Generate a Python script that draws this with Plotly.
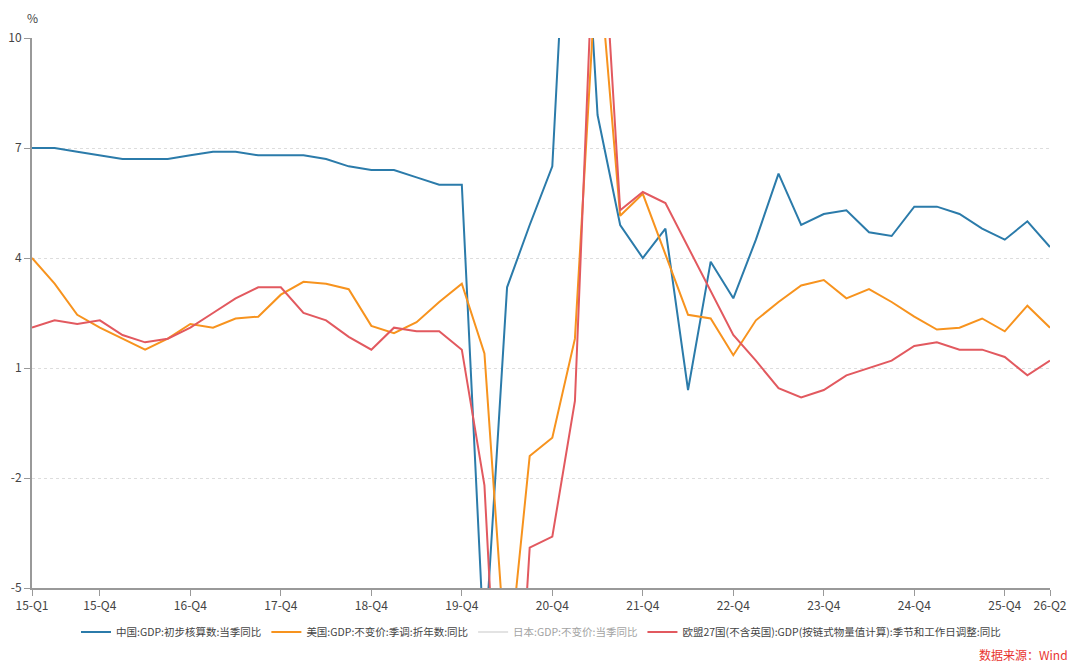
import plotly.graph_objects as go

# 季度标签 15-Q1 ... 26-Q2
quarters = [f"{y:02d}-Q{q}" for y in range(15, 27) for q in range(1, 5)][:46]

# 中国:GDP:初步核算数:当季同比
china = [7.0, 7.0, 6.9, 6.8, 6.7, 6.7, 6.7, 6.8, 6.9, 6.9, 6.8, 6.8,
         6.8, 6.7, 6.5, 6.4, 6.4, 6.2, 6.0, 6.0, -6.8, 3.2, 4.9, 6.5,
         18.3, 7.9, 4.9, 4.0, 4.8, 0.4, 3.9, 2.9, 4.5, 6.3, 4.9, 5.2,
         5.3, 4.7, 4.6, 5.4, 5.4, 5.2, 4.8, 4.5, 5.0, 4.3]

# 美国:GDP:不变价:季调:折年数:同比
usa = [4.0, 3.3, 2.45, 2.1, 1.8, 1.5, 1.8, 2.2, 2.1, 2.35, 2.4, 3.0,
       3.35, 3.3, 3.15, 2.15, 1.95, 2.25, 2.8, 3.3, 1.4, -7.5, -1.4, -0.9,
       1.8, 12.5, 5.15, 5.75, 4.1, 2.45, 2.35, 1.35, 2.3, 2.8, 3.25, 3.4,
       2.9, 3.15, 2.8, 2.4, 2.05, 2.1, 2.35, 2.0, 2.7, 2.1]

# 日本:GDP:不变价:当季同比 (图中已隐藏，只留图例)
japan_x = ["15-Q1"]
japan = [None]

# 欧盟27国(不含英国):GDP(按链式物量值计算):季节和工作日调整:同比
eu = [2.1, 2.3, 2.2, 2.3, 1.9, 1.7, 1.8, 2.1, 2.5, 2.9, 3.2, 3.2,
      2.5, 2.3, 1.85, 1.5, 2.1, 2.0, 2.0, 1.5, -2.2, -13.9, -3.9, -3.6,
      0.1, 15.5, 5.3, 5.8, 5.5, 4.3, 3.1, 1.9, 1.2, 0.45, 0.2, 0.4,
      0.8, 1.0, 1.2, 1.6, 1.7, 1.5, 1.5, 1.3, 0.8, 1.2]

tick_labels = ["15-Q1", "15-Q4", "16-Q4", "17-Q4", "18-Q4", "19-Q4", "20-Q4",
               "21-Q4", "22-Q4", "23-Q4", "24-Q4", "25-Q4", "26-Q2"]
y_ticks = [-5, -2, 1, 4, 7, 10]
y_tick_text = ["-5", "-2", "1", "4", "7", "10"]

font_name = "Noto Sans CJK SC"

fig = go.Figure()
fig.add_trace(go.Scatter(x=quarters, y=china, mode="lines", name="中国:GDP:初步核算数:当季同比",
                         line=dict(color="#2B7BAA", width=2)))
fig.add_trace(go.Scatter(x=quarters, y=usa, mode="lines", name="美国:GDP:不变价:季调:折年数:同比",
                         line=dict(color="#F7931E", width=2)))
fig.add_trace(go.Scatter(x=japan_x, y=japan, mode="lines", name="日本:GDP:不变价:当季同比",
                         line=dict(color="#C8C8C8", width=2), visible="legendonly"))
fig.add_trace(go.Scatter(x=quarters, y=eu, mode="lines", name="欧盟27国(不含英国):GDP(按链式物量值计算):季节和工作日调整:同比",
                         line=dict(color="#E2595F", width=2)))

# 页面 body 有 8px 边距，所以图的尺寸和边距都往回收一点
fig.update_layout(
    width=1064, height=656,
    margin=dict(l=24, r=22, t=30, b=76),
    paper_bgcolor="white", plot_bgcolor="white",
    font=dict(family=font_name, size=12, color="#444444"),
    showlegend=True,
    legend=dict(orientation="h", x=0.5, xanchor="center", y=-0.08, yanchor="middle",
                font=dict(size=10.5, color="#444444"), itemwidth=30, tracegroupgap=0),
    xaxis=dict(
        type="category", categoryorder="array", categoryarray=quarters,
        range=[0, 45], tickmode="array", tickvals=tick_labels, ticktext=tick_labels,
        showgrid=False, showline=True, linecolor="#999999", linewidth=2, automargin=False,
        ticks="outside", ticklen=6, tickcolor="#999999", tickfont=dict(size=12, color="#444444"),
    ),
    yaxis=dict(
        range=[-5, 10], tickmode="array", tickvals=y_ticks, ticktext=y_tick_text, automargin=False,
        showgrid=True, gridcolor="#DDDDDD", griddash="dot", gridwidth=1,
        showline=True, linecolor="#999999", linewidth=2, zeroline=False,
        ticks="outside", ticklen=6, tickcolor="#999999", tickfont=dict(size=12, color="#444444"),
    ),
    annotations=[
        dict(text="%", xref="paper", yref="paper", x=0, y=1.038, xanchor="center", yanchor="middle",
             showarrow=False, font=dict(size=12, color="#444444")),
        dict(text="数据来源：Wind", xref="paper", yref="paper", x=1.02, y=-0.12, xanchor="right",
             yanchor="middle", showarrow=False, font=dict(size=12, color="#E8342F")),
    ],
)

fig.write_html("out.html")
